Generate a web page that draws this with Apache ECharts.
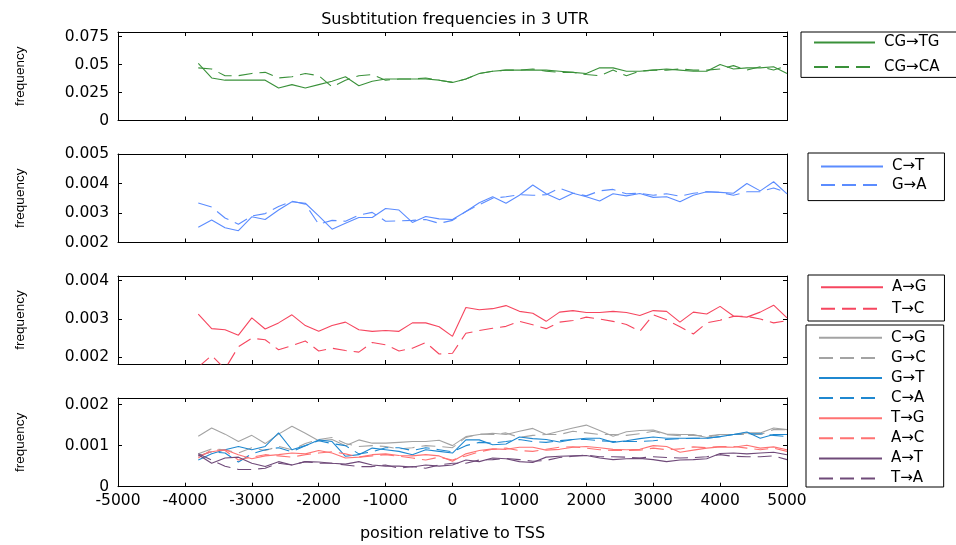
<!DOCTYPE html>
<html>
<head>
<meta charset="utf-8">
<script src="https://cdn.jsdelivr.net/npm/echarts@6/dist/echarts.min.js"></script>
<style>
  html, body { margin: 0; padding: 0; background: #fff; }
  #chart { width: 956px; height: 545px; }
</style>
</head>
<body>
<div id="chart"></div>
<script>
// Positions relative to the TSS (bp)
const positions = [-3800,-3600,-3400,-3200,-3000,-2800,-2600,-2400,-2200,-2000,
  -1800,-1600,-1400,-1200,-1000,-800,-600,-400,-200,0,
  200,400,600,800,1000,1200,1400,1600,1800,2000,
  2200,2400,2600,2800,3000,3200,3400,3600,3800,4000,
  4200,4400,4600,4800,5000];

// CpG transitions
const cgTG = [0.051,0.038,0.036,0.036,0.036,0.036,0.029,0.032,0.029,0.032,
  0.035,0.039,0.031,0.035,0.037,0.037,0.037,0.037,0.036,0.034,
  0.037,0.042,0.044,0.045,0.045,0.045,0.045,0.044,0.043,0.042,
  0.047,0.047,0.044,0.044,0.045,0.046,0.045,0.044,0.044,0.050,
  0.046,0.047,0.047,0.048,0.042];
const cgCA = [0.047,0.046,0.040,0.040,0.042,0.043,0.038,0.039,0.042,0.040,
  0.030,0.036,0.040,0.041,0.036,0.037,0.037,0.038,0.036,0.034,
  0.037,0.042,0.044,0.045,0.045,0.046,0.044,0.043,0.043,0.041,
  0.040,0.045,0.040,0.044,0.045,0.045,0.046,0.045,0.045,0.046,
  0.049,0.045,0.048,0.045,0.049];

// C/G transitions
const cT = [0.00252,0.00276,0.00250,0.00240,0.00287,0.00278,0.00310,0.00338,0.00333,0.00290,
  0.00245,0.00265,0.00285,0.00285,0.00315,0.00310,0.00268,0.00288,0.00280,0.00278,
  0.00305,0.00335,0.00355,0.00333,0.00360,0.00395,0.00365,0.00345,0.00367,0.00355,
  0.00341,0.00365,0.00358,0.00366,0.00353,0.00355,0.00338,0.00360,0.00372,0.00370,
  0.00367,0.00400,0.00375,0.00406,0.00365];
const gA = [0.00334,0.00320,0.00283,0.00262,0.00290,0.00298,0.00322,0.00340,0.00330,0.00262,
  0.00275,0.00272,0.00293,0.00302,0.00272,0.00273,0.00275,0.00278,0.00265,0.00275,
  0.00305,0.00328,0.00350,0.00355,0.00362,0.00360,0.00362,0.00384,0.00368,0.00358,
  0.00375,0.00380,0.00365,0.00367,0.00360,0.00365,0.00357,0.00367,0.00372,0.00370,
  0.00360,0.00372,0.00372,0.00385,0.00369];

// A/T transitions
const aG = [0.00313,0.00275,0.00272,0.00258,0.00303,0.00274,0.00290,0.00311,0.00283,0.00268,
  0.00283,0.00292,0.00272,0.00268,0.00270,0.00268,0.00290,0.00290,0.00280,0.00255,
  0.00330,0.00324,0.00327,0.00335,0.00320,0.00315,0.00294,0.00318,0.00322,0.00317,
  0.00317,0.00320,0.00317,0.00309,0.00322,0.00320,0.00292,0.00318,0.00313,0.00333,
  0.00308,0.00305,0.00318,0.00336,0.00303];
const tC = [0.00175,0.00205,0.00170,0.00228,0.00250,0.00246,0.00220,0.00231,0.00243,0.00217,
  0.00224,0.00218,0.00214,0.00239,0.00233,0.00217,0.00224,0.00239,0.00209,0.00211,
  0.00263,0.00270,0.00276,0.00281,0.00294,0.00285,0.00275,0.00292,0.00296,0.00305,
  0.00300,0.00294,0.00286,0.00268,0.00311,0.00298,0.00280,0.00261,0.00290,0.00297,
  0.00307,0.00307,0.00300,0.00290,0.00296];

// Transversions
const cG = [0.00123,0.00143,0.00128,0.00110,0.00125,0.00105,0.00128,0.00147,0.00130,0.00112,
  0.00115,0.00100,0.00114,0.00106,0.00106,0.00108,0.00110,0.00110,0.00113,0.00100,
  0.00122,0.00127,0.00130,0.00127,0.00135,0.00142,0.00127,0.00135,0.00143,0.00150,
  0.00137,0.00123,0.00134,0.00137,0.00138,0.00128,0.00127,0.00127,0.00120,0.00127,
  0.00127,0.00131,0.00131,0.00143,0.00139];
const gC = [0.00080,0.00092,0.00090,0.00082,0.00095,0.00088,0.00098,0.00090,0.00105,0.00115,
  0.00120,0.00105,0.00098,0.00100,0.00098,0.00092,0.00095,0.00100,0.00098,0.00095,
  0.00120,0.00128,0.00127,0.00131,0.00120,0.00125,0.00127,0.00127,0.00135,0.00131,
  0.00127,0.00127,0.00125,0.00129,0.00135,0.00127,0.00124,0.00125,0.00123,0.00127,
  0.00127,0.00127,0.00127,0.00139,0.00139];
const gT = [0.00065,0.00080,0.00090,0.00098,0.00090,0.00098,0.00131,0.00090,0.00100,0.00114,
  0.00110,0.00074,0.00078,0.00094,0.00090,0.00086,0.00078,0.00090,0.00086,0.00082,
  0.00114,0.00114,0.00102,0.00104,0.00121,0.00117,0.00115,0.00109,0.00115,0.00118,
  0.00118,0.00108,0.00112,0.00117,0.00121,0.00118,0.00118,0.00118,0.00118,0.00122,
  0.00127,0.00133,0.00118,0.00127,0.00127];
const cA = [0.00075,0.00085,0.00082,0.00060,0.00080,0.00090,0.00095,0.00085,0.00100,0.00112,
  0.00105,0.00100,0.00080,0.00085,0.00095,0.00095,0.00088,0.00095,0.00090,0.00085,
  0.00100,0.00108,0.00106,0.00110,0.00115,0.00110,0.00108,0.00112,0.00115,0.00115,
  0.00112,0.00110,0.00110,0.00110,0.00112,0.00115,0.00117,0.00118,0.00118,0.00122,
  0.00127,0.00129,0.00129,0.00125,0.00122];
const tG = [0.00075,0.00085,0.00090,0.00078,0.00068,0.00075,0.00078,0.00082,0.00080,0.00088,
  0.00082,0.00070,0.00072,0.00078,0.00080,0.00076,0.00075,0.00078,0.00075,0.00062,
  0.00080,0.00088,0.00092,0.00091,0.00096,0.00096,0.00089,0.00091,0.00096,0.00098,
  0.00095,0.00091,0.00090,0.00091,0.00100,0.00098,0.00084,0.00089,0.00094,0.00097,
  0.00096,0.00101,0.00094,0.00097,0.00090];
const aC = [0.00070,0.00090,0.00088,0.00065,0.00072,0.00078,0.00075,0.00072,0.00078,0.00082,
  0.00085,0.00080,0.00072,0.00075,0.00078,0.00074,0.00070,0.00065,0.00072,0.00065,
  0.00075,0.00085,0.00091,0.00094,0.00088,0.00086,0.00091,0.00096,0.00097,0.00094,
  0.00090,0.00088,0.00088,0.00089,0.00094,0.00090,0.00092,0.00097,0.00095,0.00098,
  0.00098,0.00094,0.00090,0.00094,0.00086];
const aT = [0.00078,0.00057,0.00070,0.00072,0.00057,0.00049,0.00061,0.00053,0.00061,0.00060,
  0.00057,0.00055,0.00061,0.00053,0.00050,0.00050,0.00048,0.00053,0.00050,0.00053,
  0.00065,0.00061,0.00070,0.00068,0.00061,0.00059,0.00072,0.00074,0.00075,0.00076,
  0.00070,0.00066,0.00068,0.00069,0.00066,0.00061,0.00065,0.00066,0.00068,0.00081,
  0.00082,0.00080,0.00082,0.00084,0.00078];
const tA = [0.00080,0.00065,0.00050,0.00042,0.00042,0.00045,0.00057,0.00053,0.00061,0.00057,
  0.00057,0.00053,0.00049,0.00049,0.00053,0.00045,0.00049,0.00045,0.00053,0.00057,
  0.00057,0.00065,0.00066,0.00069,0.00066,0.00062,0.00064,0.00071,0.00074,0.00077,
  0.00073,0.00073,0.00072,0.00070,0.00073,0.00071,0.00070,0.00071,0.00073,0.00078,
  0.00074,0.00073,0.00073,0.00075,0.00066];

// Y-axis ranges and tick values for the four panels
const yRanges = [[0, 0.079], [0.002, 0.005], [0.00183, 0.00412], [0, 0.00216]];
const yTicks = [[0, 0.025, 0.05, 0.075], [0.002, 0.003, 0.004, 0.005], [0.002, 0.003, 0.004], [0, 0.001, 0.002]];
const xTickLabels = ['-5000','-4000','-3000','-2000','-1000','0','1000','2000','3000','4000','5000'];

const FONT = 'DejaVu Sans';
const grids = [
  { left: 118, width: 669, top: 32, height: 88.5 },
  { left: 118, width: 669, top: 154, height: 88.5 },
  { left: 118, width: 669, top: 276, height: 88 },
  { left: 118, width: 669, top: 398, height: 88.7 }
];

const tick = { show: true, inside: true, length: 4, lineStyle: { color: '#000', width: 1 } };
const axisLine = { show: true, onZero: false, lineStyle: { color: '#000', width: 1 } };

const xAxes = [], yAxes = [];
grids.forEach((g, i) => {
  const last = i === grids.length - 1;
  xAxes.push({
    type: 'value', gridIndex: i, position: 'bottom', min: -5000, max: 5000, interval: 1000,
    axisLine, axisTick: tick, splitLine: { show: false },
    axisLabel: last ? { show: true, color: '#000', fontFamily: FONT, fontSize: 15.5, margin: 6,
      formatter: v => xTickLabels[Math.round((v + 5000) / 1000)] } : { show: false },
    name: last ? 'position relative to TSS' : '', nameLocation: 'middle', nameGap: 39,
    nameTextStyle: { color: '#000', fontFamily: FONT, fontSize: 16 }
  });
  xAxes.push({
    type: 'value', gridIndex: i, position: 'top', min: -5000, max: 5000, interval: 1000,
    axisLine, axisTick: tick, splitLine: { show: false }, axisLabel: { show: false }
  });
  const [lo, hi] = yRanges[i];
  yAxes.push({
    type: 'value', gridIndex: i, position: 'left', min: lo, max: hi,
    axisLine, splitLine: { show: false },
    axisTick: Object.assign({}, tick, { customValues: yTicks[i] }),
    axisLabel: { show: true, customValues: yTicks[i], color: '#000', fontFamily: FONT, fontSize: 15.5, margin: 9,
      formatter: v => String(v) },
    name: 'frequency', nameLocation: 'middle', nameRotate: 90, nameGap: 91,
    nameTextStyle: { color: '#000', fontFamily: 'Liberation Sans', fontSize: 13.5 }
  });
  yAxes.push({
    type: 'value', gridIndex: i, position: 'right', min: lo, max: hi,
    axisLine, splitLine: { show: false },
    axisTick: Object.assign({}, tick, { customValues: yTicks[i] }),
    axisLabel: { show: false }
  });
});

const DASH = [14, 7];
function line(name, values, panel, color, dashed) {
  return {
    name, type: 'line', xAxisIndex: panel * 2, yAxisIndex: panel * 2,
    data: positions.map((p, k) => [p, values[k]]),
    symbol: 'none', showSymbol: false, clip: true, animation: false,
    lineStyle: { color, width: 1.1, type: dashed ? DASH : 'solid' },
    itemStyle: { color }
  };
}

const GREEN = '#3a913a', BLUE = '#5b8cff', RED = '#f6465f',
      GRAY = '#a3a3a3', MBLUE = '#1f88d0', PINK = '#ff7272', PURPLE = '#6f4a79';

const series = [
  line('CG→TG', cgTG, 0, GREEN, false),
  line('CG→CA', cgCA, 0, GREEN, true),
  line('C→T', cT, 1, BLUE, false),
  line('G→A', gA, 1, BLUE, true),
  line('A→G', aG, 2, RED, false),
  line('T→C', tC, 2, RED, true),
  line('C→G', cG, 3, GRAY, false),
  line('G→C', gC, 3, GRAY, true),
  line('G→T', gT, 3, MBLUE, false),
  line('C→A', cA, 3, MBLUE, true),
  line('T→G', tG, 3, PINK, false),
  line('A→C', aC, 3, PINK, true),
  line('A→T', aT, 3, PURPLE, false),
  line('T→A', tA, 3, PURPLE, true)
];

// Boxed legends: line sample only, no marker
function legend(names, left, top, padding, gap, itemWidth) {
  return {
    data: names, orient: 'vertical', left, top, padding, itemGap: gap,
    itemWidth, itemHeight: 14, selectedMode: false,
    itemStyle: { opacity: 0, borderWidth: 0 },
    borderColor: '#000', borderWidth: 1, borderRadius: 0, backgroundColor: '#fff',
    textStyle: { color: '#000', fontFamily: FONT, fontSize: 15, lineHeight: 14, padding: [0, 0, 0, 4] }
  };
}

const option = {
  backgroundColor: '#fff',
  animation: false,
  title: {
    text: 'Susbtitution frequencies in 3 UTR', left: 450, top: 7, textAlign: 'center',
    textStyle: { color: '#000', fontFamily: FONT, fontSize: 16, fontWeight: 'normal' }
  },
  grid: grids,
  xAxis: xAxes,
  yAxis: yAxes,
  legend: [
    legend(['CG→TG', 'CG→CA'], 801, 32, [3, 34, 3, 12], 9.4, 61),
    legend(['C→T', 'G→A'], 808, 153, [6, 18, 8, 12], 3.6, 62),
    legend(['A→G', 'T→C'], 808, 275, [4.7, 18, 4.7, 12], 6.6, 62),
    legend(['C→G', 'G→C', 'G→T', 'C→A', 'T→G', 'A→C', 'A→T', 'T→A'], 806, 325, [5.3, 18, 1, 12], 5.1, 63)
  ],
  series
};

const chart = echarts.init(document.getElementById('chart'), null, { renderer: 'canvas' });
chart.setOption(option);
</script>
</body>
</html>
